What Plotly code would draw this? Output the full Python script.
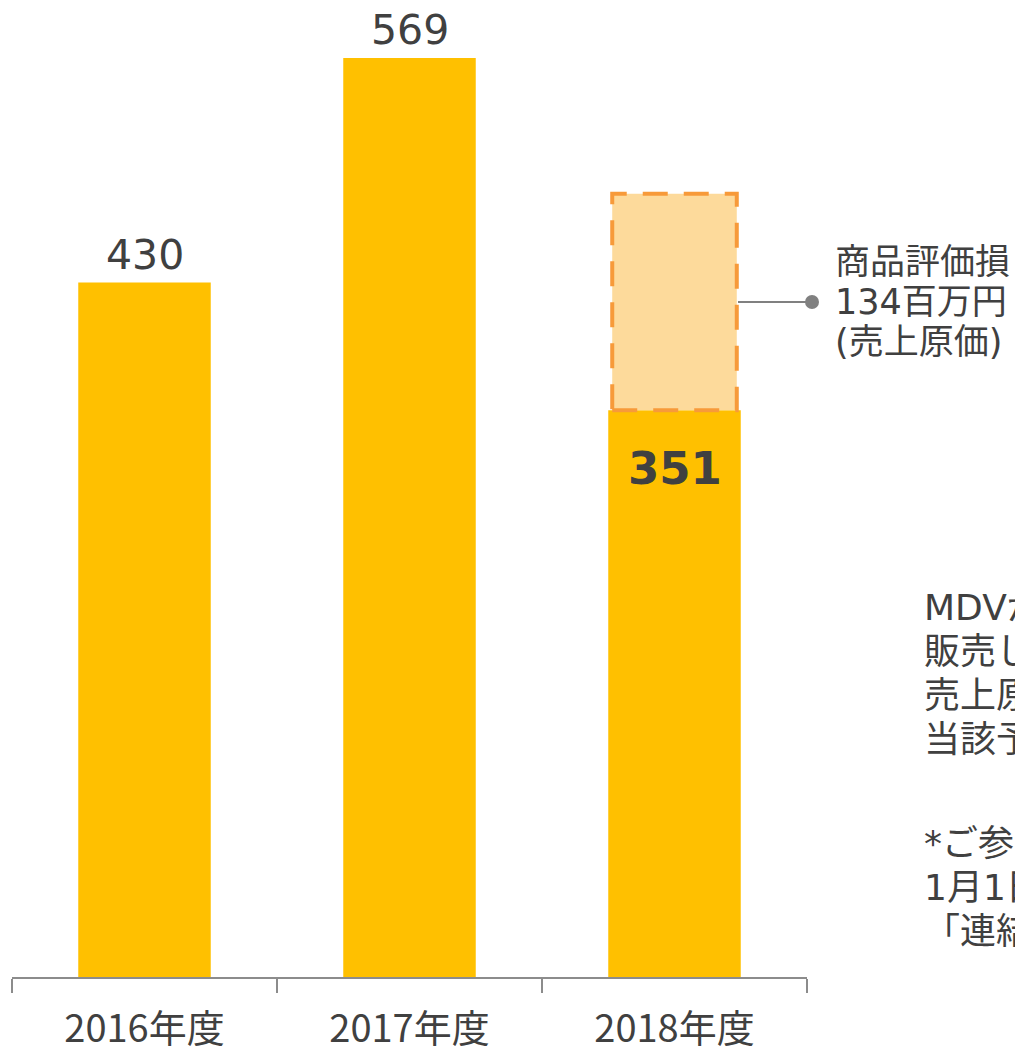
import plotly.graph_objects as go

categories = ["2016年度", "2017年度", "2018年度"]
values = [430, 569, 351]
value_labels = ["430", "569", "<b>351</b>"]
loss_value = 134
loss_lines = ["商品評価損", "134百万円", "(売上原価)"]
note_lines_1 = ["MDVが保有する在庫を", "販売した場合の", "売上原価に計上予定の", "当該予定額を計上"]
note_lines_2 = ["*ご参照：2019年", "1月1日付", "「連結業績予想の修正」"]

FONT = "DejaVu Sans, Noto Sans CJK JP, sans-serif"
TXT = "#404040"
BAR = "#FFC000"

# page has an 8px body margin; layout in figure pixels
W, H = 1015, 1043
L, R, T, B = 4, 216, 0, 74
PW, PH = W - L - R, H - T - B


def px(xref_px):
    return (xref_px - 8 - L) / PW


def py(yref_px):
    return 1 - (yref_px - 8 - T) / PH


fig = go.Figure()
fig.add_trace(go.Bar(x=categories, y=values, width=0.5, marker=dict(color=BAR, line=dict(width=0)),
                     hoverinfo="skip"))

for i, (c, v, lab) in enumerate(zip(categories, values, value_labels)):
    if i < 2:
        fig.add_annotation(x=c, y=v, text=lab, showarrow=False, yanchor="bottom", yshift=2,
                           font=dict(size=41, color=TXT, family=FONT))
    else:
        fig.add_annotation(x=c, y=v, text=lab, showarrow=False, yanchor="top", yshift=-30,
                           font=dict(size=45, color=TXT, family=FONT))

idx = 2
half = 0.235
base = values[idx]
fig.add_shape(type="rect", xref="x", yref="y", x0=idx - half, x1=idx + half, y0=base, y1=base + loss_value,
              fillcolor="#FDDA9B", line=dict(color="#F79A3A", width=4, dash="25px,16px"), layer="above")

mid = base + loss_value * 0.5
fig.add_shape(type="line", xref="paper", yref="y", x0=px(738), x1=px(812), y0=mid, y1=mid,
              line=dict(color="#808080", width=2))
fig.add_shape(type="circle", xref="paper", yref="y", xsizemode="pixel", ysizemode="pixel",
              xanchor=px(812), yanchor=mid, x0=-7, x1=7, y0=-7, y1=7,
              fillcolor="#808080", line=dict(width=0))
for k, line in enumerate(loss_lines):
    fig.add_annotation(x=px(833), y=mid, xref="paper", yref="y", text=line, showarrow=False,
                       xanchor="left", yanchor="middle", align="left", yshift=(1 - k) * 40,
                       font=dict(size=35, color=TXT, family=FONT))

for k, line in enumerate(note_lines_1):
    fig.add_annotation(x=px(922), y=py(607 + 44 * k), xref="paper", yref="paper", text=line,
                       showarrow=False, xanchor="left", yanchor="middle", align="left",
                       font=dict(size=36, color=TXT, family=FONT))
for k, line in enumerate(note_lines_2):
    fig.add_annotation(x=px(922), y=py(843 + 44 * k), xref="paper", yref="paper", text=line,
                       showarrow=False, xanchor="left", yanchor="middle", align="left",
                       font=dict(size=36, color=TXT, family=FONT))

fig.update_layout(
    width=W, height=H,
    margin=dict(l=L, r=R, t=T, b=B, autoexpand=False),
    paper_bgcolor="white", plot_bgcolor="white",
    showlegend=False,
    xaxis=dict(type="category", range=[-0.5, 2.5], showline=True, linecolor="#8c8c8c", linewidth=2,
               ticks="outside", tickson="boundaries", ticklen=14, tickwidth=2, tickcolor="#8c8c8c",
               ticklabelstandoff=17, automargin=False,
               tickfont=dict(size=38, color=TXT, family="Noto Sans CJK JP, sans-serif"),
               showgrid=False, zeroline=False),
    yaxis=dict(range=[0, 969 / 1.615], visible=False, showgrid=False, zeroline=False),
)

fig.write_html("out.html")
